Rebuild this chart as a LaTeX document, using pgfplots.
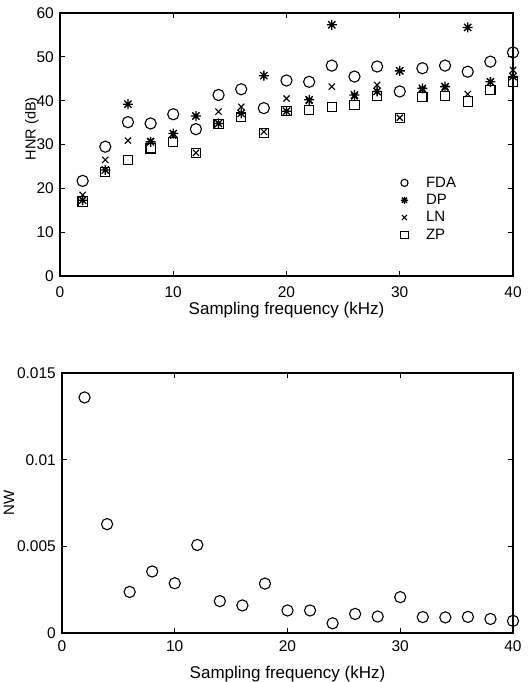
\documentclass[border=0pt]{standalone}
\usepackage{fontspec}
\setmainfont{Liberation Sans}
\usepackage{pgfplots}
\pgfplotsset{compat=1.18}

% MATLAB-like '*' marker: four crossed strokes
\pgfdeclareplotmark{mstar}{%
  \pgfpathmoveto{\pgfqpoint{-\pgfplotmarksize}{0pt}}%
  \pgfpathlineto{\pgfqpoint{\pgfplotmarksize}{0pt}}%
  \pgfpathmoveto{\pgfqpoint{0pt}{-\pgfplotmarksize}}%
  \pgfpathlineto{\pgfqpoint{0pt}{\pgfplotmarksize}}%
  \pgfpathmoveto{\pgfqpoint{-.72\pgfplotmarksize}{-.72\pgfplotmarksize}}%
  \pgfpathlineto{\pgfqpoint{.72\pgfplotmarksize}{.72\pgfplotmarksize}}%
  \pgfpathmoveto{\pgfqpoint{-.72\pgfplotmarksize}{.72\pgfplotmarksize}}%
  \pgfpathlineto{\pgfqpoint{.72\pgfplotmarksize}{-.72\pgfplotmarksize}}%
  \pgfusepathqstroke
  \pgfpathcircle{\pgfpointorigin}{.4\pgfplotmarksize}%
  \pgfusepathqfill}

\pgfplotsset{
  mat/.style={
    scale only axis,
    xmin=0, xmax=40,
    xtick={0,10,20,30,40},
    tick align=inside,
    major tick length=5pt,
    minor tick num=0,
    axis line style={line width=1.1pt},
    every tick/.style={black, line width=0.8pt},
    clip=false,
    /pgf/number format/assume math mode=true,
    tick label style={font=\fontsize{15.5}{16}\selectfont, inner sep=0pt},
    xticklabel style={anchor=north, yshift=-10pt},
    yticklabel style={anchor=east, xshift=-6pt},
    xlabel={Sampling frequency (kHz)},
    xlabel style={font=\fontsize{17}{18}\selectfont, inner sep=0pt,
      at={(axis description cs:0.5,0)}, anchor=base, yshift=-39pt},
  },
}

\begin{document}
\begin{tikzpicture}
\path[use as bounding box] (-60pt,-406pt) rectangle (472pt,276pt);

\begin{axis}[mat,
    at={(0pt,0pt)}, anchor=south west,
    width=453pt, height=263pt,
    ymin=0, ymax=60,
    ytick={0,10,20,30,40,50,60},
    ylabel={HNR (dB)},
    ylabel style={font=\fontsize{14.5}{15}\selectfont, inner sep=0pt,
      at={(axis description cs:-0.054,0.56)}, anchor=base},
    legend style={draw=none, fill=none, inner sep=0pt,
      font=\fontsize{15}{16}\selectfont,
      at={(rel axis cs:0.752,0.385)}, anchor=north west,
      row sep=1.5pt,
      /tikz/every odd column/.append style={column sep=16pt}},
    legend cell align=left,
    legend image post style={mark size=3.6pt},
  ]
  % FDA
  \addplot[only marks, mark=o, mark size=5.6pt, line width=1.1pt] coordinates {
    (2,21.7) (4,29.5) (6,35.1) (8,34.8) (10,36.9) (12,33.5) (14,41.3)
    (16,42.6) (18,38.3) (20,44.6) (22,44.3) (24,48.0) (26,45.5) (28,47.8)
    (30,42.1) (32,47.4) (34,48.0) (36,46.6) (38,48.9) (40,51.0)
  };
  \addlegendentry{FDA}
  % DP
  \addplot[only marks, mark=mstar, mark size=5pt, line width=1.3pt] coordinates {
    (2,17.3) (4,24.2) (6,39.2) (8,30.6) (10,32.5) (12,36.5) (14,34.8)
    (16,37.1) (18,45.7) (20,37.6) (22,40.2) (24,57.3) (26,41.3) (28,42.1)
    (30,46.8) (32,42.8) (34,43.2) (36,56.7) (38,44.3) (40,45.5)
  };
  \addlegendentry{DP}
  % LN
  \addplot[only marks, mark=x, mark size=4.4pt, line width=1.1pt] coordinates {
    (2,18.5) (4,26.5) (6,30.9) (8,30.8) (10,32.0) (12,28.1) (14,37.5)
    (16,38.6) (18,32.9) (20,40.5) (22,40.0) (24,43.2) (26,41.0) (28,43.6)
    (30,36.1) (32,42.5) (34,43.0) (36,41.5) (38,44.3) (40,47.0)
  };
  \addlegendentry{LN}
  % ZP
  \addplot[only marks, mark=square, mark size=4.6pt, line width=1.1pt] coordinates {
    (2,17.0) (4,23.8) (6,26.4) (8,29.1) (10,30.6) (12,28.1) (14,34.6)
    (16,36.3) (18,32.6) (20,37.6) (22,37.9) (24,38.5) (26,39.0) (28,41.1)
    (30,36.1) (32,40.9) (34,41.1) (36,39.8) (38,42.4) (40,44.3)
  };
  \addlegendentry{ZP}
\end{axis}

\begin{axis}[mat,
    at={(2pt,-357pt)}, anchor=south west,
    width=451pt, height=260pt,
    ymin=0, ymax=0.015,
    ytick={0,0.005,0.01,0.015},
    yticklabels={0,0.005,0.01,0.015},
    scaled y ticks=false,
    xticklabel style={yshift=3pt},
    xlabel style={yshift=-6pt},
    ylabel={NW},
    ylabel style={font=\fontsize{15}{16}\selectfont, inner sep=0pt,
      at={(axis description cs:-0.106,0.5)}, anchor=base},
  ]
  \addplot[only marks, mark=o, mark size=5.6pt, line width=1.1pt] coordinates {
    (2,0.01359) (4,0.00628) (6,0.00237) (8,0.00355) (10,0.00287)
    (12,0.00508) (14,0.00184) (16,0.00159) (18,0.00285) (20,0.00130)
    (22,0.00130) (24,0.00056) (26,0.00110) (28,0.00095) (30,0.00207)
    (32,0.00092) (34,0.00090) (36,0.00093) (38,0.00081) (40,0.00070)
  };
\end{axis}
\end{tikzpicture}
\end{document}
